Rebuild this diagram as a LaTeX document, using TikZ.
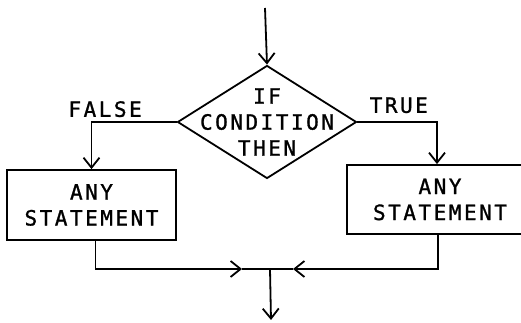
\documentclass[tikz,border=0pt]{standalone}
\usepackage{fontspec}
\setmonofont{DejaVu Sans Mono}[LetterSpace=12, FakeBold=1.2]
\usetikzlibrary{positioning, shapes.geometric, arrows.meta}

\begin{document}
\begin{tikzpicture}[x=1pt, y=1pt, line width=1.8pt,
    every node/.style={font=\ttfamily\fontsize{21}{26}\selectfont, align=center},
    stmt/.style={draw, minimum height=70pt, inner sep=0pt},
    >={Straight Barb[length=10pt, width=16pt]}]
    \useasboundingbox (0,0) rectangle (521,323);
    \coordinate (in) at (265,315);
    \node (cond) [diamond, draw, minimum width=179pt, minimum height=113pt, inner sep=-30pt] at (267,201) {IF\\CONDITION\\THEN};
    \node (lbox) [stmt, minimum width=169pt] at (91.5,118) {ANY\\STATEMENT};
    \node (rbox) [stmt, minimum width=186pt, minimum height=69pt] at (440,123.5) {ANY\\STATEMENT};
    \coordinate (mergeL) at (242,54);
    \coordinate (merge) at (270,54);
    \coordinate (mergeR) at (293,54);
    \coordinate (out) at (271,3);
    \draw[->] (in) -- (cond.north);
    \draw[->] (cond.west) -| node[pos=0.42, above, inner sep=0pt, yshift=4pt] {FALSE} (lbox.north);
    \draw[->] (cond.east) -| node[pos=0.26, above, inner sep=0pt, yshift=8pt] {TRUE} ([xshift=-3pt]rbox.north);
    \draw[->] ([xshift=4pt]lbox.south) |- (mergeL);
    \draw[->] ([xshift=-2pt]rbox.south) |- (mergeR);
    \draw (mergeL) -- (mergeR);
    \draw[->] (merge) -- (out);
  \end{tikzpicture}
\end{document}
